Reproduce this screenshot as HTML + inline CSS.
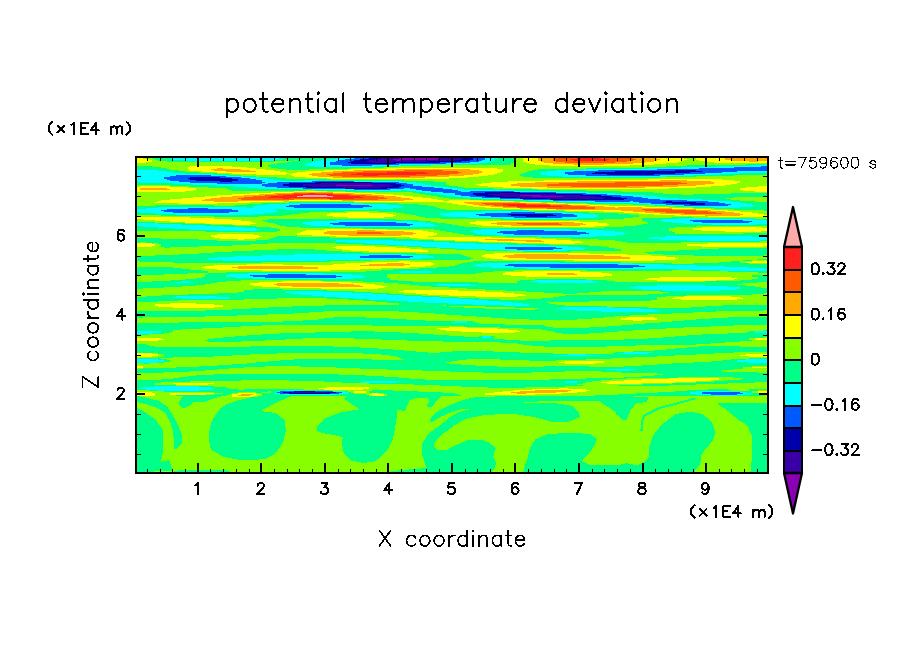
<!DOCTYPE html>
<html><head><meta charset="utf-8"><title>potential temperature deviation</title>
<style>html,body{margin:0;padding:0;background:#fff}body{width:904px;height:654px;overflow:hidden}svg{display:block}text{font-family:"Liberation Sans",sans-serif;fill:#000}</style></head><body>
<svg width="904" height="654" viewBox="0 0 904 654">
<rect width="904" height="654" fill="#fff"/>
<g shape-rendering="crispEdges" stroke-width="1" fill="none">
<rect x="136" y="157" width="632" height="316" fill="#88ff00" stroke="none"/>
<path stroke="#ffaaaa" d="M303 195.5h24M297 196.5h36"/>
<path stroke="#ff2020" d="M577 158.5h24M571 159.5h38M574 160.5h33M387 172.5h38M357 173.5h71M351 174.5h65M363 175.5h15M309 193.5h6M294 194.5h39M283 195.5h20M327 195.5h21M271 196.5h26M333 196.5h27M268 197.5h95M283 198.5h6M327 198.5h27M503 204.5h23M508 205.5h42M517 206.5h45"/>
<path stroke="#ff5a00" d="M553 158.5h24M601 158.5h32M553 159.5h18M609 159.5h27M553 160.5h21M607 160.5h26M556 161.5h71M565 162.5h50M404 170.5h39M363 171.5h95M342 172.5h45M425 172.5h36M333 173.5h24M428 173.5h30M327 174.5h24M416 174.5h33M330 175.5h33M378 175.5h59M342 176.5h68M615 182.5h66M559 183.5h128M547 184.5h131M547 185.5h116M571 186.5h56M292 193.5h17M315 193.5h18M277 194.5h17M333 194.5h18M265 195.5h18M348 195.5h18M253 196.5h18M360 196.5h18M244 197.5h24M363 197.5h21M238 198.5h45M289 198.5h38M354 198.5h33M241 199.5h53M330 199.5h48M482 203.5h44M485 204.5h18M526 204.5h24M494 205.5h14M550 205.5h21M503 206.5h14M562 206.5h24M517 207.5h78M547 208.5h48M642 209.5h30M645 210.5h51M654 211.5h54M666 212.5h50M684 213.5h38M517 223.5h42M523 224.5h39M357 232.5h24M357 233.5h27"/>
<path stroke="#ffaa00" d="M538 158.5h15M633 158.5h24M725 158.5h43M538 159.5h15M636 159.5h24M725 159.5h43M538 160.5h15M633 160.5h24M731 160.5h37M541 161.5h15M627 161.5h27M749 161.5h9M544 162.5h21M615 162.5h30M553 163.5h80M574 164.5h30M217 168.5h6M211 169.5h30M396 169.5h74M214 170.5h36M354 170.5h50M443 170.5h36M226 171.5h30M333 171.5h30M458 171.5h24M321 172.5h21M461 172.5h21M312 173.5h21M458 173.5h21M309 174.5h18M449 174.5h24M312 175.5h18M437 175.5h27M318 176.5h24M410 176.5h39M333 177.5h92M660 180.5h27M577 181.5h134M535 182.5h80M681 182.5h33M517 183.5h42M687 183.5h27M511 184.5h36M678 184.5h27M511 185.5h36M663 185.5h33M520 186.5h51M627 186.5h51M547 187.5h98M140 188.5h27M140 189.5h30M294 192.5h39M274 193.5h18M333 193.5h21M259 194.5h18M351 194.5h21M244 195.5h21M366 195.5h18M232 196.5h21M378 196.5h18M220 197.5h24M384 197.5h17M211 198.5h27M387 198.5h23M205 199.5h36M294 199.5h36M378 199.5h35M202 200.5h87M342 200.5h62M214 201.5h24M464 202.5h56M467 203.5h15M526 203.5h21M473 204.5h12M550 204.5h18M479 205.5h15M571 205.5h18M491 206.5h12M586 206.5h18M503 207.5h14M595 207.5h20M618 207.5h24M520 208.5h27M595 208.5h77M556 209.5h86M672 209.5h24M621 210.5h24M696 210.5h15M633 211.5h21M708 211.5h17M645 212.5h21M716 212.5h18M660 213.5h24M722 213.5h18M681 214.5h62M705 215.5h35M497 222.5h77M491 223.5h26M559 223.5h24M497 224.5h26M562 224.5h24M511 225.5h69M357 230.5h18M327 231.5h77M324 232.5h33M381 232.5h32M324 233.5h33M384 233.5h32M330 234.5h83M348 235.5h53M485 239.5h29M497 240.5h44M526 241.5h18M514 254.5h54M505 255.5h99M503 256.5h118M508 257.5h122M526 258.5h104M387 263.5h17M369 264.5h41M360 265.5h44M238 266.5h65M232 267.5h86M238 268.5h80M547 273.5h27M547 274.5h30M277 283.5h62M274 284.5h80M277 285.5h83M292 286.5h71M535 390.5h36M520 391.5h48M511 392.5h45M517 393.5h9M241 394.5h12M238 395.5h12"/>
<path stroke="#ffff00" d="M137 158.5h6M523 158.5h15M657 158.5h27M696 158.5h29M137 159.5h12M523 159.5h15M660 159.5h27M696 159.5h29M137 160.5h15M523 160.5h15M657 160.5h27M699 160.5h32M137 161.5h15M523 161.5h18M654 161.5h27M705 161.5h44M758 161.5h10M137 162.5h9M526 162.5h18M645 162.5h33M714 162.5h54M529 163.5h24M633 163.5h33M535 164.5h39M604 164.5h50M550 165.5h80M190 166.5h42M188 167.5h59M188 168.5h29M223 168.5h33M387 168.5h110M188 169.5h23M241 169.5h24M348 169.5h48M470 169.5h33M190 170.5h24M250 170.5h24M324 170.5h30M479 170.5h24M202 171.5h24M256 171.5h24M306 171.5h27M482 171.5h21M217 172.5h69M297 172.5h24M482 172.5h18M232 173.5h57M292 173.5h20M479 173.5h18M256 174.5h30M289 174.5h20M473 174.5h21M292 175.5h20M464 175.5h24M294 176.5h24M449 176.5h30M306 177.5h27M425 177.5h42M327 178.5h122M648 179.5h74M544 180.5h116M687 180.5h47M508 181.5h69M711 181.5h29M491 182.5h44M714 182.5h26M482 183.5h35M714 183.5h23M476 184.5h35M705 184.5h26M479 185.5h32M696 185.5h29M140 186.5h30M488 186.5h32M678 186.5h33M758 186.5h10M137 187.5h51M503 187.5h44M645 187.5h51M746 187.5h22M137 188.5h3M167 188.5h29M532 188.5h137M740 188.5h28M137 189.5h3M170 189.5h26M740 189.5h28M137 190.5h56M743 190.5h25M137 191.5h48M294 191.5h33M755 191.5h13M271 192.5h23M333 192.5h21M250 193.5h24M354 193.5h21M232 194.5h27M372 194.5h21M217 195.5h27M384 195.5h20M205 196.5h27M396 196.5h17M193 197.5h27M401 197.5h21M182 198.5h29M410 198.5h21M170 199.5h35M413 199.5h24M161 200.5h41M289 200.5h53M404 200.5h39M449 200.5h33M158 201.5h56M238 201.5h45M354 201.5h160M155 202.5h95M446 202.5h18M520 202.5h21M179 203.5h38M452 203.5h15M547 203.5h18M458 204.5h15M568 204.5h21M467 205.5h12M589 205.5h20M473 206.5h18M604 206.5h41M485 207.5h18M615 207.5h3M642 207.5h27M503 208.5h17M672 208.5h21M523 209.5h33M696 209.5h15M565 210.5h56M711 210.5h17M604 211.5h29M725 211.5h15M348 212.5h21M624 212.5h21M734 212.5h18M330 213.5h57M639 213.5h21M740 213.5h18M327 214.5h66M654 214.5h27M743 214.5h21M327 215.5h69M675 215.5h30M740 215.5h27M333 216.5h60M708 216.5h56M137 217.5h53M348 217.5h36M137 218.5h77M143 219.5h89M155 220.5h86M170 221.5h80M476 221.5h104M185 222.5h68M470 222.5h27M574 222.5h24M205 223.5h51M470 223.5h21M583 223.5h24M232 224.5h18M476 224.5h21M586 224.5h23M482 225.5h29M580 225.5h27M503 226.5h92M702 227.5h59M693 228.5h75M324 229.5h63M693 229.5h75M306 230.5h51M375 230.5h47M702 230.5h66M303 231.5h24M404 231.5h24M725 231.5h36M300 232.5h24M413 232.5h21M297 233.5h27M416 233.5h21M217 234.5h36M297 234.5h33M413 234.5h24M211 235.5h48M312 235.5h36M401 235.5h33M211 236.5h51M336 236.5h92M214 237.5h45M410 237.5h81M220 238.5h36M419 238.5h116M238 239.5h6M434 239.5h51M514 239.5h42M455 240.5h42M541 240.5h30M479 241.5h47M544 241.5h36M511 242.5h72M137 243.5h15M544 243.5h30M708 243.5h60M137 244.5h18M687 244.5h81M137 245.5h18M687 245.5h81M137 246.5h15M336 246.5h39M702 246.5h62M333 247.5h63M336 248.5h74M342 249.5h80M351 250.5h77M369 251.5h59M494 253.5h95M485 254.5h29M568 254.5h59M482 255.5h23M604 255.5h47M482 256.5h21M621 256.5h45M485 257.5h23M630 257.5h45M491 258.5h35M630 258.5h48M503 259.5h172M574 260.5h80M399 261.5h11M752 261.5h16M366 262.5h65M746 262.5h22M345 263.5h42M404 263.5h30M247 264.5h36M333 264.5h36M410 264.5h24M214 265.5h146M404 265.5h27M205 266.5h33M303 266.5h122M202 267.5h30M318 267.5h92M205 268.5h33M318 268.5h63M217 269.5h143M262 270.5h68M523 271.5h57M505 272.5h96M503 273.5h44M574 273.5h35M503 274.5h44M577 274.5h35M511 275.5h101M526 276.5h78M660 277.5h71M648 278.5h89M645 279.5h89M657 280.5h59M283 281.5h41M259 282.5h92M250 283.5h27M339 283.5h27M250 284.5h24M354 284.5h21M253 285.5h24M360 285.5h21M262 286.5h30M363 286.5h24M280 287.5h104M321 288.5h57M404 290.5h54M399 291.5h86M404 292.5h99M416 293.5h98M428 294.5h95M449 295.5h77M476 296.5h41M684 296.5h47M675 297.5h65M672 298.5h71M681 299.5h56M170 303.5h26M155 304.5h59M155 305.5h68M158 306.5h65M173 307.5h41M627 317.5h27M621 318.5h36M621 319.5h36M633 320.5h9M449 327.5h18M437 328.5h60M440 329.5h68M446 330.5h71M461 331.5h59M482 332.5h32M137 338.5h24M755 338.5h13M137 339.5h27M755 339.5h13M137 340.5h21M137 353.5h15M137 354.5h21M746 354.5h22M137 355.5h21M740 355.5h28M137 356.5h15M749 356.5h19M565 361.5h39M559 362.5h45M565 363.5h30M137 366.5h6M137 367.5h6M752 367.5h16M669 378.5h50M642 379.5h77M624 380.5h87M609 381.5h87M601 382.5h74M173 383.5h41M607 383.5h35M176 384.5h32M327 387.5h42M318 388.5h51M559 388.5h9M324 389.5h39M532 389.5h54M514 390.5h21M571 390.5h18M354 391.5h12M503 391.5h17M568 391.5h18M758 391.5h10M137 392.5h15M354 392.5h12M494 392.5h17M556 392.5h21M758 392.5h10M137 393.5h18M170 393.5h44M238 393.5h18M372 393.5h6M485 393.5h32M526 393.5h36M137 394.5h18M170 394.5h35M232 394.5h9M253 394.5h6M369 394.5h15M485 394.5h50M137 395.5h18M232 395.5h6M250 395.5h6M372 395.5h12M232 396.5h21"/>
<path stroke="#00ff88" d="M152 158.5h18M280 158.5h56M497 158.5h17M155 159.5h18M283 159.5h44M494 159.5h20M158 160.5h27M274 160.5h20M297 160.5h24M494 160.5h20M167 161.5h107M292 161.5h23M491 161.5h23M286 162.5h26M488 162.5h26M277 163.5h29M479 163.5h32M271 164.5h35M455 164.5h56M746 164.5h22M268 165.5h38M401 165.5h30M687 165.5h65M137 166.5h15M268 166.5h47M375 166.5h24M666 166.5h50M137 167.5h24M271 167.5h113M645 167.5h36M137 168.5h30M277 168.5h74M586 168.5h62M137 169.5h33M286 169.5h23M538 169.5h45M158 170.5h21M532 170.5h24M167 171.5h18M529 171.5h18M173 172.5h26M526 172.5h15M185 173.5h32M523 173.5h18M740 173.5h28M214 174.5h15M520 174.5h21M719 174.5h49M229 175.5h12M520 175.5h27M693 175.5h41M244 176.5h12M523 176.5h39M666 176.5h30M259 177.5h18M532 177.5h128M268 178.5h18M274 179.5h56M280 180.5h23M318 180.5h86M401 181.5h33M137 182.5h3M416 182.5h30M137 183.5h36M422 183.5h24M137 184.5h56M425 184.5h21M170 185.5h47M431 185.5h18M190 186.5h45M440 186.5h18M208 187.5h39M449 187.5h15M226 188.5h33M458 188.5h36M229 189.5h83M464 189.5h74M232 190.5h74M315 190.5h42M401 190.5h6M514 190.5h72M345 191.5h71M556 191.5h65M413 192.5h12M589 192.5h65M419 193.5h18M615 193.5h48M731 193.5h37M425 194.5h15M633 194.5h48M693 194.5h75M431 195.5h15M645 195.5h123M437 196.5h18M657 196.5h111M443 197.5h21M666 197.5h68M449 198.5h33M678 198.5h47M470 199.5h33M702 199.5h29M500 200.5h29M716 200.5h24M526 201.5h33M731 201.5h24M289 202.5h65M556 202.5h39M740 202.5h28M262 203.5h24M363 203.5h36M586 203.5h47M746 203.5h22M247 204.5h21M387 204.5h32M633 204.5h15M752 204.5h16M155 205.5h59M235 205.5h21M399 205.5h29M654 205.5h12M755 205.5h13M137 206.5h116M404 206.5h30M675 206.5h9M752 206.5h16M137 207.5h21M247 207.5h6M401 207.5h36M693 207.5h21M740 207.5h28M137 208.5h9M393 208.5h47M714 208.5h54M274 209.5h12M369 209.5h77M734 209.5h34M277 210.5h252M764 210.5h4M277 211.5h68M378 211.5h104M535 211.5h30M137 212.5h3M274 212.5h35M396 212.5h56M565 212.5h24M137 213.5h18M265 213.5h35M404 213.5h36M583 213.5h35M137 214.5h39M253 214.5h39M410 214.5h30M595 214.5h35M161 215.5h122M416 215.5h27M598 215.5h41M214 216.5h45M419 216.5h30M598 216.5h41M425 217.5h42M595 217.5h38M672 217.5h21M440 218.5h65M577 218.5h47M642 218.5h36M719 218.5h36M268 219.5h128M500 219.5h104M642 219.5h21M755 219.5h13M262 220.5h74M384 220.5h35M642 220.5h18M265 221.5h47M413 221.5h18M645 221.5h18M137 222.5h18M268 222.5h35M425 222.5h12M648 222.5h24M158 223.5h27M274 223.5h29M431 223.5h15M648 223.5h36M182 224.5h29M277 224.5h29M434 224.5h18M642 224.5h69M755 224.5h13M205 225.5h30M280 225.5h32M437 225.5h21M636 225.5h132M137 226.5h6M223 226.5h33M286 226.5h44M434 226.5h30M624 226.5h72M137 227.5h21M244 227.5h27M300 227.5h179M604 227.5h71M137 228.5h36M256 228.5h21M363 228.5h306M137 229.5h53M259 229.5h21M434 229.5h48M571 229.5h98M137 230.5h80M256 230.5h24M440 230.5h33M604 230.5h65M205 231.5h72M446 231.5h24M615 231.5h57M452 232.5h21M624 232.5h51M458 233.5h18M627 233.5h48M743 233.5h25M464 234.5h18M624 234.5h144M473 235.5h24M615 235.5h153M277 236.5h20M505 236.5h33M595 236.5h71M752 236.5h16M274 237.5h56M541 237.5h110M137 238.5h24M271 238.5h125M571 238.5h77M137 239.5h62M268 239.5h145M598 239.5h62M137 240.5h80M256 240.5h80M393 240.5h41M615 240.5h72M761 240.5h7M137 241.5h199M419 241.5h36M621 241.5h140M137 242.5h3M146 242.5h202M449 242.5h33M627 242.5h54M158 243.5h110M336 243.5h30M476 243.5h41M161 244.5h89M363 244.5h24M508 244.5h42M161 245.5h71M387 245.5h17M535 245.5h54M161 246.5h38M407 246.5h15M568 246.5h33M164 247.5h6M422 247.5h15M580 247.5h29M440 248.5h15M586 248.5h29M719 248.5h49M277 249.5h38M455 249.5h30M583 249.5h38M699 249.5h69M253 250.5h74M485 250.5h23M568 250.5h53M678 250.5h90M232 251.5h110M523 251.5h48M654 251.5h114M214 252.5h149M645 252.5h123M199 253.5h217M648 253.5h120M179 254.5h115M407 254.5h54M663 254.5h105M155 255.5h107M428 255.5h36M693 255.5h71M137 256.5h98M434 256.5h33M137 257.5h80M434 257.5h36M137 258.5h71M422 258.5h51M137 259.5h71M387 259.5h83M758 259.5h10M137 260.5h86M327 260.5h45M743 260.5h9M140 261.5h190M473 261.5h92M731 261.5h9M173 262.5h89M467 262.5h47M559 262.5h62M719 262.5h21M461 263.5h21M633 263.5h39M693 263.5h56M458 264.5h18M663 264.5h105M455 265.5h18M696 265.5h72M449 266.5h30M725 266.5h43M137 267.5h36M437 267.5h54M749 267.5h19M137 268.5h45M419 268.5h107M764 268.5h4M137 269.5h53M393 269.5h285M137 270.5h65M381 270.5h133M586 270.5h86M690 270.5h29M137 271.5h71M366 271.5h33M431 271.5h63M728 271.5h40M137 272.5h71M226 272.5h173M431 272.5h51M758 272.5h10M137 273.5h51M208 273.5h39M324 273.5h152M137 274.5h27M205 274.5h24M351 274.5h36M205 275.5h21M363 275.5h24M752 275.5h16M205 276.5h21M366 276.5h21M752 276.5h16M202 277.5h33M363 277.5h24M758 277.5h10M196 278.5h57M354 278.5h36M758 278.5h10M185 279.5h205M535 279.5h51M752 279.5h16M170 280.5h71M321 280.5h78M520 280.5h15M592 280.5h15M740 280.5h28M152 281.5h30M188 281.5h38M363 281.5h50M517 281.5h15M598 281.5h17M705 281.5h63M137 282.5h39M193 282.5h24M384 282.5h95M517 282.5h21M595 282.5h163M137 283.5h74M399 283.5h344M137 284.5h68M410 284.5h27M470 284.5h267M137 285.5h59M419 285.5h18M476 285.5h181M705 285.5h41M137 286.5h45M431 286.5h205M728 286.5h27M137 287.5h27M449 287.5h181M740 287.5h21M137 288.5h6M467 288.5h166M740 288.5h27M253 289.5h30M485 289.5h157M737 289.5h31M244 290.5h83M505 290.5h158M719 290.5h49M244 291.5h42M324 291.5h30M526 291.5h75M660 291.5h108M238 292.5h48M351 292.5h21M544 292.5h45M669 292.5h98M217 293.5h75M372 293.5h18M562 293.5h15M663 293.5h101M188 294.5h112M387 294.5h17M648 294.5h104M161 295.5h151M404 295.5h18M565 295.5h122M146 296.5h30M217 296.5h107M422 296.5h18M559 296.5h107M137 297.5h36M229 297.5h110M440 297.5h18M553 297.5h104M137 298.5h45M229 298.5h48M327 298.5h27M458 298.5h21M541 298.5h116M137 299.5h107M348 299.5h21M473 299.5h27M526 299.5h131M137 300.5h42M363 300.5h24M488 300.5h163M137 301.5h21M375 301.5h32M500 301.5h89M387 302.5h38M511 302.5h36M399 303.5h50M523 303.5h27M399 304.5h74M529 304.5h27M324 305.5h119M446 305.5h57M529 305.5h36M722 305.5h46M292 306.5h157M485 306.5h122M705 306.5h63M268 307.5h196M514 307.5h48M612 307.5h36M690 307.5h78M250 308.5h235M538 308.5h18M639 308.5h129M232 309.5h288M535 309.5h27M654 309.5h114M205 310.5h372M660 310.5h104M137 311.5h187M399 311.5h202M657 311.5h59M137 312.5h172M419 312.5h274M137 313.5h157M434 313.5h238M137 314.5h131M446 314.5h202M137 315.5h101M461 315.5h169M137 316.5h68M476 316.5h139M137 317.5h6M333 317.5h33M491 317.5h113M728 317.5h40M324 318.5h66M505 318.5h87M711 318.5h57M318 319.5h89M529 319.5h48M696 319.5h72M303 320.5h122M684 320.5h84M283 321.5h172M467 321.5h6M672 321.5h96M179 322.5h273M467 322.5h9M660 322.5h108M137 323.5h342M645 323.5h123M137 324.5h368M633 324.5h135M137 325.5h125M372 325.5h172M621 325.5h113M137 326.5h104M464 326.5h83M607 326.5h104M137 327.5h86M500 327.5h53M589 327.5h95M137 328.5h65M523 328.5h143M137 329.5h45M541 329.5h107M137 330.5h36M547 330.5h86M764 330.5h4M161 331.5h12M351 331.5h24M553 331.5h65M749 331.5h6M161 332.5h9M315 332.5h86M556 332.5h48M746 332.5h9M152 333.5h12M280 333.5h139M562 333.5h27M728 333.5h40M137 334.5h12M262 334.5h172M702 334.5h66M247 335.5h202M687 335.5h81M235 336.5h229M479 336.5h3M491 336.5h3M675 336.5h93M223 337.5h259M491 337.5h3M663 337.5h101M214 338.5h89M354 338.5h140M648 338.5h101M208 339.5h78M381 339.5h124M624 339.5h125M205 340.5h60M407 340.5h113M550 340.5h202M208 341.5h33M443 341.5h297M500 342.5h225M517 343.5h194M137 344.5h9M523 344.5h173M137 345.5h12M532 345.5h104M137 346.5h18M250 346.5h83M544 346.5h63M699 346.5h41M137 347.5h223M687 347.5h81M137 348.5h241M675 348.5h93M137 349.5h256M666 349.5h102M137 350.5h267M654 350.5h114M137 351.5h279M452 351.5h42M633 351.5h135M137 352.5h291M440 352.5h80M615 352.5h9M651 352.5h83M158 353.5h119M363 353.5h190M612 353.5h9M648 353.5h66M164 354.5h86M381 354.5h187M586 354.5h110M164 355.5h68M390 355.5h163M601 355.5h74M164 356.5h50M396 356.5h261M158 357.5h15M399 357.5h234M137 358.5h24M401 358.5h211M749 358.5h19M158 359.5h9M294 359.5h78M404 359.5h63M500 359.5h86M731 359.5h15M164 360.5h6M280 360.5h178M529 360.5h27M722 360.5h15M164 361.5h6M268 361.5h184M711 361.5h26M158 362.5h6M256 362.5h190M693 362.5h56M143 363.5h6M247 363.5h202M672 363.5h96M232 364.5h229M657 364.5h111M217 365.5h259M642 365.5h126M199 366.5h66M300 366.5h197M544 366.5h45M624 366.5h128M176 367.5h68M336 367.5h407M143 368.5h86M360 368.5h383M137 369.5h80M387 369.5h220M636 369.5h98M137 370.5h68M422 370.5h193M630 370.5h92M137 371.5h53M449 371.5h116M601 371.5h121M137 372.5h27M482 372.5h50M621 372.5h137M657 373.5h111M214 374.5h125M663 374.5h105M196 375.5h170M654 375.5h114M188 376.5h196M642 376.5h126M179 377.5h220M624 377.5h54M734 377.5h34M173 378.5h237M586 378.5h41M743 378.5h25M161 379.5h264M550 379.5h62M740 379.5h28M137 380.5h104M289 380.5h312M728 380.5h40M137 381.5h53M324 381.5h39M401 381.5h164M577 381.5h15M714 381.5h54M137 382.5h24M342 382.5h18M396 382.5h169M577 382.5h9M696 382.5h59M137 383.5h18M369 383.5h214M672 383.5h56M137 384.5h18M413 384.5h164M642 384.5h54M137 385.5h39M440 385.5h143M618 385.5h51M137 386.5h18M199 386.5h15M461 386.5h104M137 387.5h6M211 387.5h15M488 387.5h38M137 388.5h3M214 388.5h15M137 389.5h9M211 389.5h27M244 389.5h59M708 389.5h20M749 389.5h18M149 390.5h9M199 390.5h87M303 390.5h27M372 390.5h21M687 390.5h44M749 390.5h9M164 391.5h104M271 391.5h6M345 391.5h3M369 391.5h50M675 391.5h21M740 391.5h12M214 392.5h24M256 392.5h6M271 392.5h6M348 392.5h3M369 392.5h74M657 392.5h33M746 392.5h6M223 393.5h9M262 393.5h12M348 393.5h6M384 393.5h71M636 393.5h54M752 393.5h9M214 394.5h15M262 394.5h21M336 394.5h30M387 394.5h71M618 394.5h78M749 394.5h18M176 395.5h50M262 395.5h107M387 395.5h74M595 395.5h119M737 395.5h27M137 396.5h3M183 396.5h38M258 396.5h33M347 396.5h94M495 396.5h139M137 397.5h8M182 397.5h36M250 397.5h38M345 397.5h95M474 397.5h174M137 398.5h12M181 398.5h33M246 398.5h40M344 398.5h71M428 398.5h11M469 398.5h179M691 398.5h5M137 399.5h16M181 399.5h30M242 399.5h42M345 399.5h67M429 399.5h9M465 399.5h183M688 399.5h7M137 400.5h21M180 400.5h28M238 400.5h43M347 400.5h62M429 400.5h8M462 400.5h185M684 400.5h7M137 401.5h23M179 401.5h27M235 401.5h44M348 401.5h61M429 401.5h7M459 401.5h79M600 401.5h47M680 401.5h8M139 402.5h22M179 402.5h14M232 402.5h45M349 402.5h60M429 402.5h6M456 402.5h68M601 402.5h42M677 402.5h7M143 403.5h20M179 403.5h13M229 403.5h46M351 403.5h57M428 403.5h7M454 403.5h104M603 403.5h34M673 403.5h7M718 403.5h50M147 404.5h17M179 404.5h12M226 404.5h47M352 404.5h56M427 404.5h7M451 404.5h113M604 404.5h31M669 404.5h8M718 404.5h50M150 405.5h16M180 405.5h10M225 405.5h46M354 405.5h53M427 405.5h6M449 405.5h121M606 405.5h28M665 405.5h8M720 405.5h48M153 406.5h14M181 406.5h7M223 406.5h46M355 406.5h52M427 406.5h5M447 406.5h126M607 406.5h27M661 406.5h8M721 406.5h47M156 407.5h12M182 407.5h4M222 407.5h45M357 407.5h49M445 407.5h129M609 407.5h24M658 407.5h7M723 407.5h45M137 408.5h1M158 408.5h10M220 408.5h45M358 408.5h48M443 408.5h132M610 408.5h22M656 408.5h5M725 408.5h43M137 409.5h3M160 409.5h9M220 409.5h43M358 409.5h48M441 409.5h20M469 409.5h107M612 409.5h19M654 409.5h5M726 409.5h42M137 410.5h5M161 410.5h9M219 410.5h43M352 410.5h45M402 410.5h3M439 410.5h18M465 410.5h112M613 410.5h17M652 410.5h5M727 410.5h41M137 411.5h7M163 411.5h7M218 411.5h46M346 411.5h51M438 411.5h16M461 411.5h117M615 411.5h15M650 411.5h5M729 411.5h39M137 412.5h9M165 412.5h6M217 412.5h55M340 412.5h57M436 412.5h15M458 412.5h121M616 412.5h14M648 412.5h5M685 412.5h10M730 412.5h38M137 413.5h10M166 413.5h6M217 413.5h59M338 413.5h59M435 413.5h13M456 413.5h123M616 413.5h13M646 413.5h5M679 413.5h21M731 413.5h37M137 414.5h11M166 414.5h6M216 414.5h62M335 414.5h62M434 414.5h12M454 414.5h41M518 414.5h61M616 414.5h13M644 414.5h5M675 414.5h28M732 414.5h36M137 415.5h13M167 415.5h6M215 415.5h64M332 415.5h65M433 415.5h11M453 415.5h29M524 415.5h56M618 415.5h10M643 415.5h4M674 415.5h30M733 415.5h35M137 416.5h14M167 416.5h6M215 416.5h65M330 416.5h67M432 416.5h9M451 416.5h26M531 416.5h49M619 416.5h9M643 416.5h2M673 416.5h32M734 416.5h34M137 417.5h16M168 417.5h6M214 417.5h67M327 417.5h70M431 417.5h9M449 417.5h23M536 417.5h43M620 417.5h8M642 417.5h3M671 417.5h36M736 417.5h32M137 418.5h17M168 418.5h7M213 418.5h70M325 418.5h72M431 418.5h7M448 418.5h20M539 418.5h37M621 418.5h6M642 418.5h2M670 418.5h38M737 418.5h31M137 419.5h19M169 419.5h6M213 419.5h71M323 419.5h73M430 419.5h6M447 419.5h18M543 419.5h31M622 419.5h5M642 419.5h2M668 419.5h41M738 419.5h30M137 420.5h19M169 420.5h7M212 420.5h73M323 420.5h73M430 420.5h5M446 420.5h17M547 420.5h25M641 420.5h2M667 420.5h43M739 420.5h29M137 421.5h20M170 421.5h6M212 421.5h73M322 421.5h74M430 421.5h3M445 421.5h16M550 421.5h19M641 421.5h2M666 421.5h45M741 421.5h27M137 422.5h21M170 422.5h7M211 422.5h74M321 422.5h75M443 422.5h16M641 422.5h2M664 422.5h48M743 422.5h25M137 423.5h21M171 423.5h6M211 423.5h74M320 423.5h76M442 423.5h16M641 423.5h2M663 423.5h49M745 423.5h23M137 424.5h22M171 424.5h7M211 424.5h74M319 424.5h77M441 424.5h15M641 424.5h2M662 424.5h51M746 424.5h22M137 425.5h23M171 425.5h7M210 425.5h75M318 425.5h77M440 425.5h14M641 425.5h2M661 425.5h52M747 425.5h21M137 426.5h24M171 426.5h8M210 426.5h75M317 426.5h78M438 426.5h15M641 426.5h2M660 426.5h53M748 426.5h20M137 427.5h24M172 427.5h7M210 427.5h76M317 427.5h78M437 427.5h15M641 427.5h2M659 427.5h55M748 427.5h20M137 428.5h25M172 428.5h7M210 428.5h76M317 428.5h78M435 428.5h15M641 428.5h2M659 428.5h55M749 428.5h19M137 429.5h26M172 429.5h8M210 429.5h76M317 429.5h78M434 429.5h15M640 429.5h3M658 429.5h56M749 429.5h19M137 430.5h26M173 430.5h7M209 430.5h77M317 430.5h78M433 430.5h15M640 430.5h3M657 430.5h58M749 430.5h19M137 431.5h26M173 431.5h8M209 431.5h77M318 431.5h76M431 431.5h15M656 431.5h59M750 431.5h18M137 432.5h26M173 432.5h8M209 432.5h76M321 432.5h73M430 432.5h15M655 432.5h60M750 432.5h18M137 433.5h26M173 433.5h8M209 433.5h76M325 433.5h69M429 433.5h14M558 433.5h25M655 433.5h60M751 433.5h17M137 434.5h26M173 434.5h9M209 434.5h76M331 434.5h63M428 434.5h14M547 434.5h44M654 434.5h61M751 434.5h17M137 435.5h26M173 435.5h9M209 435.5h76M336 435.5h58M427 435.5h14M545 435.5h47M653 435.5h61M752 435.5h16M137 436.5h26M173 436.5h9M209 436.5h75M340 436.5h53M427 436.5h13M542 436.5h52M653 436.5h61M752 436.5h16M137 437.5h26M174 437.5h8M209 437.5h75M343 437.5h50M426 437.5h13M540 437.5h55M652 437.5h62M752 437.5h16M137 438.5h26M174 438.5h8M209 438.5h75M343 438.5h50M425 438.5h13M537 438.5h59M652 438.5h61M752 438.5h16M137 439.5h26M174 439.5h8M209 439.5h75M342 439.5h51M425 439.5h12M535 439.5h62M652 439.5h61M752 439.5h16M137 440.5h26M174 440.5h8M209 440.5h75M342 440.5h50M424 440.5h12M467 440.5h17M535 440.5h61M651 440.5h62M752 440.5h16M137 441.5h26M174 441.5h8M209 441.5h74M342 441.5h50M423 441.5h13M465 441.5h21M534 441.5h62M651 441.5h61M752 441.5h16M137 442.5h26M174 442.5h8M209 442.5h74M342 442.5h49M423 442.5h12M462 442.5h27M533 442.5h63M651 442.5h60M752 442.5h16M137 443.5h26M174 443.5h8M210 443.5h72M342 443.5h49M422 443.5h12M460 443.5h30M533 443.5h62M650 443.5h60M752 443.5h16M137 444.5h26M174 444.5h7M210 444.5h72M342 444.5h48M422 444.5h12M457 444.5h34M532 444.5h63M650 444.5h59M752 444.5h16M137 445.5h26M174 445.5h6M210 445.5h71M342 445.5h48M422 445.5h12M455 445.5h38M532 445.5h62M650 445.5h59M752 445.5h16M137 446.5h26M174 446.5h5M210 446.5h70M342 446.5h47M422 446.5h12M453 446.5h41M531 446.5h63M649 446.5h59M752 446.5h16M137 447.5h26M174 447.5h4M210 447.5h70M343 447.5h46M422 447.5h13M451 447.5h44M530 447.5h63M649 447.5h58M752 447.5h16M137 448.5h26M174 448.5h3M211 448.5h68M343 448.5h45M422 448.5h14M449 448.5h47M530 448.5h62M649 448.5h57M752 448.5h16M137 449.5h26M211 449.5h67M343 449.5h45M422 449.5h15M448 449.5h47M530 449.5h62M649 449.5h56M752 449.5h16M137 450.5h26M212 450.5h66M343 450.5h44M422 450.5h73M529 450.5h62M649 450.5h55M752 450.5h16M137 451.5h26M214 451.5h63M343 451.5h43M422 451.5h73M529 451.5h61M649 451.5h55M752 451.5h16M137 452.5h26M216 452.5h60M344 452.5h41M422 452.5h72M529 452.5h60M649 452.5h54M752 452.5h16M137 453.5h26M218 453.5h57M344 453.5h40M422 453.5h72M529 453.5h60M649 453.5h53M752 453.5h16M137 454.5h25M219 454.5h55M345 454.5h38M422 454.5h72M528 454.5h60M649 454.5h53M752 454.5h16M137 455.5h25M221 455.5h51M346 455.5h36M422 455.5h72M528 455.5h59M649 455.5h52M752 455.5h16M137 456.5h25M223 456.5h47M347 456.5h34M423 456.5h70M528 456.5h58M649 456.5h52M752 456.5h16M137 457.5h25M227 457.5h41M348 457.5h32M423 457.5h71M528 457.5h57M648 457.5h53M752 457.5h16M137 458.5h25M232 458.5h35M349 458.5h30M423 458.5h71M527 458.5h57M648 458.5h53M752 458.5h16M137 459.5h24M237 459.5h22M350 459.5h28M424 459.5h71M527 459.5h56M647 459.5h54M752 459.5h16M137 460.5h24M167 460.5h2M351 460.5h25M424 460.5h71M527 460.5h55M646 460.5h55M752 460.5h16M137 461.5h24M163 461.5h7M356 461.5h18M424 461.5h72M526 461.5h57M645 461.5h56M752 461.5h16M137 462.5h33M361 462.5h6M425 462.5h71M526 462.5h59M643 462.5h57M751 462.5h17M137 463.5h33M425 463.5h71M526 463.5h61M625 463.5h3M641 463.5h59M751 463.5h17M137 464.5h34M425 464.5h71M525 464.5h64M621 464.5h12M639 464.5h61M751 464.5h17M137 465.5h34M426 465.5h69M525 465.5h174M751 465.5h17M137 466.5h34M426 466.5h69M525 466.5h173M751 466.5h17M137 467.5h35M426 467.5h69M524 467.5h174M751 467.5h17M137 468.5h35M421 468.5h73M524 468.5h173M751 468.5h17M137 469.5h35M409 469.5h85M524 469.5h172M751 469.5h17M137 470.5h36M178 470.5h49M398 470.5h95M524 470.5h171M751 470.5h17M137 471.5h17M174 471.5h56M391 471.5h101M523 471.5h172M750 471.5h18"/>
<path stroke="#00ffff" d="M170 158.5h110M336 158.5h18M485 158.5h12M173 159.5h110M327 159.5h18M485 159.5h9M185 160.5h89M321 160.5h18M482 160.5h12M315 161.5h21M479 161.5h12M312 162.5h18M470 162.5h18M306 163.5h24M446 163.5h33M306 164.5h24M399 164.5h56M306 165.5h36M372 165.5h29M752 165.5h16M315 166.5h60M716 166.5h45M681 167.5h53M648 168.5h51M583 169.5h74M137 170.5h21M556 170.5h42M137 171.5h30M547 171.5h27M737 171.5h31M137 172.5h36M541 172.5h24M722 172.5h46M137 173.5h48M541 173.5h24M705 173.5h35M137 174.5h77M541 174.5h27M684 174.5h35M137 175.5h39M211 175.5h18M547 175.5h39M660 175.5h33M137 176.5h33M226 176.5h18M562 176.5h104M137 177.5h27M241 177.5h18M137 178.5h27M250 178.5h18M137 179.5h30M256 179.5h18M137 180.5h33M262 180.5h18M303 180.5h15M137 181.5h42M262 181.5h50M354 181.5h47M140 182.5h50M265 182.5h12M399 182.5h17M173 183.5h44M262 183.5h6M407 183.5h15M193 184.5h69M413 184.5h12M217 185.5h45M413 185.5h18M235 186.5h30M422 186.5h18M247 187.5h30M434 187.5h15M259 188.5h44M404 188.5h6M443 188.5h15M312 189.5h42M390 189.5h26M452 189.5h12M357 190.5h44M407 190.5h15M458 190.5h56M416 191.5h15M461 191.5h9M514 191.5h42M425 192.5h18M556 192.5h33M437 193.5h18M586 193.5h29M440 194.5h15M607 194.5h26M446 195.5h15M621 195.5h24M455 196.5h15M633 196.5h24M464 197.5h18M642 197.5h24M482 198.5h18M648 198.5h30M503 199.5h20M660 199.5h42M529 200.5h24M687 200.5h29M559 201.5h36M630 201.5h3M708 201.5h23M595 202.5h44M719 202.5h21M286 203.5h77M633 203.5h18M725 203.5h21M268 204.5h32M351 204.5h36M648 204.5h18M731 204.5h21M256 205.5h33M369 205.5h30M666 205.5h18M728 205.5h27M253 206.5h33M372 206.5h32M684 206.5h68M158 207.5h89M253 207.5h41M363 207.5h38M714 207.5h26M146 208.5h42M208 208.5h185M137 209.5h30M232 209.5h42M286 209.5h83M137 210.5h24M238 210.5h39M137 211.5h27M238 211.5h39M482 211.5h53M140 212.5h33M229 212.5h45M452 212.5h59M535 212.5h30M155 213.5h110M440 213.5h45M562 213.5h21M176 214.5h77M440 214.5h36M574 214.5h21M443 215.5h36M577 215.5h21M449 216.5h42M577 216.5h21M467 217.5h47M562 217.5h33M505 218.5h72M678 218.5h41M663 219.5h92M336 220.5h48M660 220.5h30M743 220.5h25M312 221.5h101M663 221.5h30M752 221.5h16M303 222.5h36M396 222.5h29M672 222.5h30M749 222.5h19M137 223.5h21M303 223.5h27M407 223.5h24M684 223.5h84M137 224.5h45M306 224.5h27M413 224.5h21M711 224.5h44M137 225.5h68M312 225.5h33M410 225.5h27M143 226.5h80M330 226.5h104M158 227.5h86M173 228.5h83M190 229.5h69M482 229.5h89M217 230.5h39M473 230.5h44M544 230.5h60M470 231.5h30M577 231.5h38M473 232.5h24M586 232.5h38M476 233.5h27M589 233.5h38M482 234.5h32M580 234.5h44M497 235.5h118M538 236.5h57M666 236.5h86M651 237.5h117M648 238.5h120M660 239.5h108M336 240.5h57M687 240.5h74M336 241.5h83M348 242.5h101M366 243.5h110M387 244.5h121M404 245.5h131M422 246.5h146M437 247.5h68M556 247.5h24M455 248.5h50M562 248.5h24M485 249.5h32M553 249.5h30M508 250.5h60M294 254.5h113M262 255.5h107M401 255.5h27M235 256.5h125M413 256.5h21M217 257.5h143M410 257.5h24M208 258.5h214M208 259.5h179M223 260.5h104M514 262.5h45M482 263.5h151M476 264.5h32M618 264.5h45M473 265.5h32M639 265.5h57M479 266.5h35M645 266.5h80M491 267.5h59M633 267.5h116M526 268.5h238M678 269.5h90M719 270.5h49M399 271.5h32M399 272.5h32M247 273.5h77M229 274.5h39M306 274.5h45M226 275.5h24M336 275.5h27M226 276.5h27M342 276.5h24M235 277.5h30M336 277.5h27M253 278.5h101M535 280.5h57M182 281.5h6M532 281.5h66M176 282.5h17M538 282.5h57M437 284.5h33M437 285.5h39M657 285.5h48M636 286.5h92M630 287.5h110M633 288.5h107M642 289.5h95M663 290.5h56M286 291.5h38M286 292.5h65M292 293.5h80M300 294.5h87M312 295.5h92M176 296.5h41M324 296.5h98M173 297.5h56M339 297.5h101M182 298.5h47M354 298.5h104M369 299.5h104M387 300.5h101M407 301.5h93M425 302.5h86M449 303.5h74M473 304.5h56M503 305.5h26M562 307.5h50M556 308.5h83M562 309.5h92M577 310.5h83M601 311.5h56M455 321.5h12M452 322.5h15M137 331.5h24M755 331.5h13M137 332.5h24M755 332.5h13M137 333.5h15M482 336.5h9M482 337.5h9M624 352.5h27M621 353.5h27M568 354.5h18M553 355.5h48M137 359.5h21M746 359.5h22M137 360.5h27M737 360.5h31M137 361.5h27M737 361.5h31M137 362.5h21M749 362.5h19M607 369.5h29M615 370.5h15M363 381.5h38M565 381.5h12M360 382.5h36M565 382.5h12M155 386.5h44M143 387.5h68M140 388.5h74M146 389.5h65M158 390.5h41M286 390.5h17M277 391.5h3M333 391.5h12M696 391.5h44M342 392.5h6M690 392.5h12M740 392.5h6M274 393.5h6M339 393.5h9M690 393.5h12M743 393.5h9M283 394.5h53M696 394.5h15M737 394.5h12M714 395.5h23"/>
<path stroke="#0058ff" d="M354 158.5h15M473 158.5h12M345 159.5h15M473 159.5h12M339 160.5h15M470 160.5h12M336 161.5h15M461 161.5h18M330 162.5h18M440 162.5h30M330 163.5h21M396 163.5h50M330 164.5h69M342 165.5h30M761 166.5h7M734 167.5h34M699 168.5h69M657 169.5h111M598 170.5h77M696 170.5h72M574 171.5h41M702 171.5h35M565 172.5h30M690 172.5h32M565 173.5h27M675 173.5h30M568 174.5h39M654 174.5h30M176 175.5h35M586 175.5h74M170 176.5h56M164 177.5h26M220 177.5h21M164 178.5h24M232 178.5h18M167 179.5h23M238 179.5h18M170 180.5h26M238 180.5h24M179 181.5h41M232 181.5h30M312 181.5h42M190 182.5h75M277 182.5h38M372 182.5h27M217 183.5h45M268 183.5h21M396 183.5h11M262 184.5h21M401 184.5h12M262 185.5h21M404 185.5h9M265 186.5h24M401 186.5h21M277 187.5h29M399 187.5h35M303 188.5h42M387 188.5h17M410 188.5h33M354 189.5h36M416 189.5h36M422 190.5h36M431 191.5h30M470 191.5h44M443 192.5h42M520 192.5h36M455 193.5h18M556 193.5h30M455 194.5h18M583 194.5h24M461 195.5h15M601 195.5h20M470 196.5h15M612 196.5h21M482 197.5h18M621 197.5h21M500 198.5h20M627 198.5h21M523 199.5h27M624 199.5h36M553 200.5h134M595 201.5h35M633 201.5h33M672 201.5h36M639 202.5h24M696 202.5h23M651 203.5h21M705 203.5h20M300 204.5h51M666 204.5h24M705 204.5h26M289 205.5h80M684 205.5h44M286 206.5h86M294 207.5h69M188 208.5h20M167 209.5h65M161 210.5h77M164 211.5h74M173 212.5h56M511 212.5h24M485 213.5h77M476 214.5h32M553 214.5h21M479 215.5h32M556 215.5h21M491 216.5h35M547 216.5h30M514 217.5h48M690 220.5h53M693 221.5h59M339 222.5h57M702 222.5h47M330 223.5h77M333 224.5h80M345 225.5h65M517 230.5h27M500 231.5h77M497 232.5h89M503 233.5h86M514 234.5h66M505 247.5h51M505 248.5h57M517 249.5h36M369 255.5h32M360 256.5h53M360 257.5h50M508 264.5h110M505 265.5h134M514 266.5h131M550 267.5h83M268 274.5h38M250 275.5h86M253 276.5h89M265 277.5h71M280 391.5h14M315 391.5h18M277 392.5h6M336 392.5h6M702 392.5h38M280 393.5h9M330 393.5h9M702 393.5h41M711 394.5h26"/>
<path stroke="#0000aa" d="M369 158.5h12M461 158.5h12M360 159.5h15M461 159.5h12M354 160.5h15M455 160.5h15M351 161.5h15M428 161.5h33M348 162.5h24M393 162.5h47M351 163.5h45M675 170.5h21M615 171.5h87M595 172.5h95M592 173.5h83M607 174.5h47M190 177.5h30M188 178.5h44M190 179.5h48M196 180.5h42M220 181.5h12M315 182.5h57M289 183.5h32M372 183.5h24M283 184.5h20M390 184.5h11M283 185.5h20M393 185.5h11M289 186.5h23M390 186.5h11M306 187.5h36M381 187.5h18M345 188.5h42M485 192.5h35M473 193.5h27M517 193.5h39M473 194.5h15M556 194.5h27M476 195.5h18M580 195.5h21M485 196.5h18M595 196.5h17M500 197.5h17M604 197.5h17M520 198.5h27M604 198.5h23M550 199.5h74M666 201.5h6M663 202.5h33M672 203.5h33M690 204.5h15M508 214.5h45M511 215.5h45M526 216.5h21M294 391.5h21M283 392.5h9M327 392.5h9M289 393.5h41"/>
<path stroke="#3a00a8" d="M381 158.5h18M440 158.5h21M375 159.5h18M437 159.5h24M369 160.5h27M401 160.5h54M366 161.5h62M372 162.5h21M321 183.5h51M303 184.5h87M303 185.5h33M372 185.5h21M312 186.5h78M342 187.5h39M500 193.5h17M488 194.5h68M494 195.5h26M541 195.5h39M503 196.5h29M562 196.5h33M517 197.5h87M547 198.5h57M292 392.5h35"/>
<path stroke="#8a00b4" d="M399 158.5h41M393 159.5h44M396 160.5h5M336 185.5h36M520 195.5h21M532 196.5h30"/>
</g>
<g shape-rendering="crispEdges" fill="none" stroke="#000">
<path stroke-width="1" d="M147.5 473v-4M147.5 157v4M160.5 473v-4M160.5 157v4M172.5 473v-4M172.5 157v4M185.5 473v-4M185.5 157v4M210.5 473v-4M210.5 157v4M223.5 473v-4M223.5 157v4M236.5 473v-4M236.5 157v4M249.5 473v-4M249.5 157v4M274.5 473v-4M274.5 157v4M287.5 473v-4M287.5 157v4M299.5 473v-4M299.5 157v4M312.5 473v-4M312.5 157v4M338.5 473v-4M338.5 157v4M350.5 473v-4M350.5 157v4M363.5 473v-4M363.5 157v4M376.5 473v-4M376.5 157v4M401.5 473v-4M401.5 157v4M414.5 473v-4M414.5 157v4M426.5 473v-4M426.5 157v4M439.5 473v-4M439.5 157v4M465.5 473v-4M465.5 157v4M477.5 473v-4M477.5 157v4M490.5 473v-4M490.5 157v4M503.5 473v-4M503.5 157v4M528.5 473v-4M528.5 157v4M541.5 473v-4M541.5 157v4M554.5 473v-4M554.5 157v4M566.5 473v-4M566.5 157v4M592.5 473v-4M592.5 157v4M604.5 473v-4M604.5 157v4M617.5 473v-4M617.5 157v4M630.5 473v-4M630.5 157v4M655.5 473v-4M655.5 157v4M668.5 473v-4M668.5 157v4M681.5 473v-4M681.5 157v4M693.5 473v-4M693.5 157v4M719.5 473v-4M719.5 157v4M731.5 473v-4M731.5 157v4M744.5 473v-4M744.5 157v4M757.5 473v-4M757.5 157v4M136 454.5h5M768 454.5h-5M136 434.5h5M768 434.5h-5M136 414.5h5M768 414.5h-5M136 374.5h5M768 374.5h-5M136 355.5h5M768 355.5h-5M136 335.5h5M768 335.5h-5M136 295.5h5M768 295.5h-5M136 275.5h5M768 275.5h-5M136 256.5h5M768 256.5h-5M136 216.5h5M768 216.5h-5M136 196.5h5M768 196.5h-5M136 176.5h5M768 176.5h-5"/>
<path stroke-width="2" d="M198 473v-10M198 157v10M261 473v-10M261 157v10M325 473v-10M325 157v10M388 473v-10M388 157v10M452 473v-10M452 157v10M515 473v-10M515 157v10M579 473v-10M579 157v10M643 473v-10M643 157v10M706 473v-10M706 157v10M136 394h9M768 394h-9M136 315h9M768 315h-9M136 236h9M768 236h-9"/>
<rect x="136" y="157" width="632" height="316" stroke-width="2"/>
</g>
<g shape-rendering="crispEdges">
<rect x="784" y="247" width="18" height="23" fill="#ff2020"/>
<rect x="784" y="270" width="18" height="22" fill="#ff5a00"/>
<rect x="784" y="292" width="18" height="23" fill="#ffaa00"/>
<rect x="784" y="315" width="18" height="23" fill="#ffff00"/>
<rect x="784" y="338" width="18" height="22" fill="#88ff00"/>
<rect x="784" y="360" width="18" height="23" fill="#00ff88"/>
<rect x="784" y="383" width="18" height="23" fill="#00ffff"/>
<rect x="784" y="406" width="18" height="22" fill="#0058ff"/>
<rect x="784" y="428" width="18" height="23" fill="#0000aa"/>
<rect x="784" y="451" width="18" height="22" fill="#3a00a8"/>
<path fill="none" stroke="#000" stroke-width="2" d="M784 246V474M802 246V474M783 247H803M783 270H803M783 292H803M783 315H803M783 338H803M783 360H803M783 383H803M783 406H803M783 428H803M783 451H803M783 473H803"/>
</g>
<g stroke="#000" stroke-width="2.3" stroke-linejoin="round">
<path d="M784 247L793 207L802 247Z" fill="#ffaaaa"/>
<path d="M784 473L793 513.5L802 473Z" fill="#8a00b4"/>
</g>
<g id="txt" fill="none" stroke="#000" stroke-linecap="round" stroke-linejoin="round" shape-rendering="crispEdges">
<path d="M227.02 98.83L227.02 117.43M227.02 101.62L228.88 99.76L230.74 98.83L233.53 98.83L235.39 99.76L237.25 101.62L238.18 104.41L238.18 106.27L237.25 109.06L235.39 110.92L233.53 111.85L230.74 111.85L228.88 110.92L227.02 109.06M248.29 98.83L246.43 99.76L244.57 101.62L243.64 104.41L243.64 106.27L244.57 109.06L246.43 110.92L248.29 111.85L251.08 111.85L252.94 110.92L254.80 109.06L255.73 106.27L255.73 104.41L254.80 101.62L252.94 99.76L251.08 98.83L248.29 98.83M263.04 93.25L263.04 108.13L263.97 110.92L265.83 111.85L267.69 111.85M260.25 98.83L266.76 98.83M272.26 104.41L283.43 104.41L283.43 102.55L282.50 100.69L281.56 99.76L279.71 98.83L276.92 98.83L275.06 99.76L273.19 101.62L272.26 104.41L272.26 106.27L273.19 109.06L275.06 110.92L276.92 111.85L279.71 111.85L281.56 110.92L283.43 109.06M289.82 98.83L289.82 111.85M289.82 102.55L292.61 99.76L294.47 98.83L297.26 98.83L299.12 99.76L300.05 102.55L300.05 111.85M308.29 93.25L308.29 108.13L309.22 110.92L311.08 111.85L312.94 111.85M305.50 98.83L312.01 98.83M317.52 93.25L318.45 94.05L319.38 93.25L318.45 92.45L317.52 93.25M318.45 98.83L318.45 111.85M336.06 98.83L336.06 111.85M336.06 101.62L334.20 99.76L332.34 98.83L329.55 98.83L327.69 99.76L325.83 101.62L324.90 104.41L324.90 106.27L325.83 109.06L327.69 110.92L329.55 111.85L332.34 111.85L334.20 110.92L336.06 109.06M343.38 93.25L343.38 111.85M366.48 93.25L366.48 108.13L367.41 110.92L369.26 111.85L371.12 111.85M363.69 98.83L370.20 98.83M375.70 104.41L386.86 104.41L386.86 102.55L385.93 100.69L385.00 99.76L383.14 98.83L380.35 98.83L378.49 99.76L376.63 101.62L375.70 104.41L375.70 106.27L376.63 109.06L378.49 110.92L380.35 111.85L383.14 111.85L385.00 110.92L386.86 109.06M393.25 98.83L393.25 111.85M393.25 102.55L396.04 99.76L397.90 98.83L400.69 98.83L402.55 99.76L403.48 102.55L403.48 111.85M403.48 102.55L406.27 99.76L408.13 98.83L410.92 98.83L412.78 99.76L413.71 102.55L413.71 111.85M420.96 98.83L420.96 117.43M420.96 101.62L422.82 99.76L424.68 98.83L427.47 98.83L429.33 99.76L431.19 101.62L432.12 104.41L432.12 106.27L431.19 109.06L429.33 110.92L427.47 111.85L424.68 111.85L422.82 110.92L420.96 109.06M437.57 104.41L448.73 104.41L448.73 102.55L447.80 100.69L446.87 99.76L445.01 98.83L442.22 98.83L440.36 99.76L438.50 101.62L437.57 104.41L437.57 106.27L438.50 109.06L440.36 110.92L442.22 111.85L445.01 111.85L446.87 110.92L448.73 109.06M455.12 98.83L455.12 111.85M455.12 104.41L456.05 101.62L457.91 99.76L459.77 98.83L462.56 98.83M477.36 98.83L477.36 111.85M477.36 101.62L475.50 99.76L473.64 98.83L470.85 98.83L468.99 99.76L467.13 101.62L466.20 104.41L466.20 106.27L467.13 109.06L468.99 110.92L470.85 111.85L473.64 111.85L475.50 110.92L477.36 109.06M485.61 93.25L485.61 108.13L486.54 110.92L488.40 111.85L490.26 111.85M482.82 98.83L489.33 98.83M495.76 98.83L495.76 108.13L496.69 110.92L498.55 111.85L501.34 111.85L503.20 110.92L505.99 108.13M505.99 98.83L505.99 111.85M513.31 98.83L513.31 111.85M513.31 104.41L514.23 101.62L516.10 99.76L517.95 98.83L520.75 98.83M524.38 104.41L535.54 104.41L535.54 102.55L534.61 100.69L533.68 99.76L531.82 98.83L529.03 98.83L527.17 99.76L525.31 101.62L524.38 104.41L524.38 106.27L525.31 109.06L527.17 110.92L529.03 111.85L531.82 111.85L533.68 110.92L535.54 109.06M566.94 93.25L566.94 111.85M566.94 101.62L565.08 99.76L563.22 98.83L560.43 98.83L558.57 99.76L556.71 101.62L555.78 104.41L555.78 106.27L556.71 109.06L558.57 110.92L560.43 111.85L563.22 111.85L565.08 110.92L566.94 109.06M573.33 104.41L584.49 104.41L584.49 102.55L583.56 100.69L582.63 99.76L580.77 98.83L577.98 98.83L576.12 99.76L574.26 101.62L573.33 104.41L573.33 106.27L574.26 109.06L576.12 110.92L577.98 111.85L580.77 111.85L582.63 110.92L584.49 109.06M589.02 98.83L594.60 111.85M600.18 98.83L594.60 111.85M604.72 93.25L605.65 94.05L606.58 93.25L605.65 92.45L604.72 93.25M605.65 98.83L605.65 111.85M623.27 98.83L623.27 111.85M623.27 101.62L621.41 99.76L619.55 98.83L616.76 98.83L614.90 99.76L613.04 101.62L612.11 104.41L612.11 106.27L613.04 109.06L614.90 110.92L616.76 111.85L619.55 111.85L621.41 110.92L623.27 109.06M631.52 93.25L631.52 108.13L632.45 110.92L634.31 111.85L636.17 111.85M628.73 98.83L635.24 98.83M640.74 93.25L641.67 94.05L642.60 93.25L641.67 92.45L640.74 93.25M641.67 98.83L641.67 111.85M652.78 98.83L650.92 99.76L649.06 101.62L648.13 104.41L648.13 106.27L649.06 109.06L650.92 110.92L652.78 111.85L655.57 111.85L657.43 110.92L659.29 109.06L660.22 106.27L660.22 104.41L659.29 101.62L657.43 99.76L655.57 98.83L652.78 98.83M666.61 98.83L666.61 111.85M666.61 102.55L669.40 99.76L671.26 98.83L674.05 98.83L675.91 99.76L676.84 102.55L676.84 111.85" stroke-width="2.00"/>
<path d="M52.26 122.01L51.22 122.80L50.17 123.98L49.12 125.55L48.60 127.51L48.60 129.08L49.12 131.05L50.17 132.62L51.22 133.80L52.26 134.59M57.53 125.73L64.24 132.44M64.24 125.73L57.53 132.44M71.28 124.89L72.33 124.37L73.90 122.80L73.90 133.80M81.06 122.80L81.06 133.80M81.06 122.80L87.87 122.80M81.06 128.04L85.25 128.04M81.06 133.80L87.87 133.80M96.05 122.80L90.81 130.13L98.67 130.13M96.05 122.80L96.05 133.80M110.81 126.46L110.81 133.80M110.81 128.56L112.38 126.99L113.43 126.46L115.00 126.46L116.05 126.99L116.58 128.56L116.58 133.80M116.58 128.56L118.15 126.99L119.20 126.46L120.77 126.46L121.81 126.99L122.34 128.56L122.34 133.80M126.52 122.01L127.57 122.80L128.61 123.98L129.66 125.55L130.19 127.51L130.19 129.08L129.66 131.05L128.61 132.62L127.57 133.80L126.52 134.59" stroke-width="2.00"/>
<path d="M694.56 505.21L693.52 506.00L692.47 507.18L691.42 508.75L690.90 510.71L690.90 512.28L691.42 514.25L692.47 515.82L693.52 517.00L694.56 517.79M699.83 508.93L706.54 515.64M706.54 508.93L699.83 515.64M713.58 508.09L714.63 507.57L716.20 506.00L716.20 517.00M723.36 506.00L723.36 517.00M723.36 506.00L730.17 506.00M723.36 511.24L727.55 511.24M723.36 517.00L730.17 517.00M738.35 506.00L733.11 513.33L740.97 513.33M738.35 506.00L738.35 517.00M753.11 509.66L753.11 517.00M753.11 511.76L754.68 510.19L755.73 509.66L757.30 509.66L758.35 510.19L758.88 511.76L758.88 517.00M758.88 511.76L760.45 510.19L761.50 509.66L763.07 509.66L764.12 510.19L764.64 511.76L764.64 517.00M768.82 505.21L769.87 506.00L770.91 507.18L771.96 508.75L772.48 510.71L772.48 512.28L771.96 514.25L770.91 515.82L769.87 517.00L768.82 517.79" stroke-width="2.00"/>
<path d="M780.07 157.64L780.07 166.01L780.59 167.58L781.63 168.10L782.68 168.10M778.50 160.78L782.16 160.78M785.82 161.82L795.23 161.82M785.82 164.96L795.23 164.96M806.22 157.12L800.99 168.10M798.89 157.12L806.22 157.12M815.63 157.12L810.40 157.12L809.88 161.82L810.40 161.30L811.97 160.78L813.54 160.78L815.11 161.30L816.15 162.35L816.68 163.92L816.68 164.96L816.15 166.53L815.11 167.58L813.54 168.10L811.97 168.10L810.40 167.58L809.88 167.05L809.35 166.01M826.61 160.78L826.09 162.35L825.04 163.39L823.47 163.92L822.95 163.92L821.38 163.39L820.34 162.35L819.81 160.78L819.81 160.25L820.34 158.69L821.38 157.64L822.95 157.12L823.47 157.12L825.04 157.64L826.09 158.69L826.61 160.78L826.61 163.39L826.09 166.01L825.04 167.58L823.47 168.10L822.43 168.10L820.86 167.58L820.34 166.53M837.07 158.69L836.55 157.64L834.98 157.12L833.93 157.12L832.37 157.64L831.32 159.21L830.80 161.82L830.80 164.44L831.32 166.53L832.37 167.58L833.93 168.10L834.46 168.10L836.03 167.58L837.07 166.53L837.60 164.96L837.60 164.44L837.07 162.87L836.03 161.82L834.46 161.30L833.93 161.30L832.37 161.82L831.32 162.87L830.80 164.44M843.87 157.12L842.30 157.64L841.26 159.21L840.73 161.82L840.73 163.39L841.26 166.01L842.30 167.58L843.87 168.10L844.92 168.10L846.49 167.58L847.53 166.01L848.06 163.39L848.06 161.82L847.53 159.21L846.49 157.64L844.92 157.12L843.87 157.12M854.33 157.12L852.76 157.64L851.72 159.21L851.19 161.82L851.19 163.39L851.72 166.01L852.76 167.58L854.33 168.10L855.38 168.10L856.95 167.58L857.99 166.01L858.52 163.39L858.52 161.82L857.99 159.21L856.95 157.64L855.38 157.12L854.33 157.12M875.77 162.35L875.25 161.30L873.68 160.78L872.11 160.78L870.54 161.30L870.02 162.35L870.54 163.39L871.59 163.92L874.21 164.44L875.25 164.96L875.77 166.01L875.77 166.53L875.25 167.58L873.68 168.10L872.11 168.10L870.54 167.58L870.02 166.53" stroke-width="1.10"/>
<path d="M379.46 530.63L390.64 545.90M390.64 530.63L379.46 545.90M415.60 537.70L414.11 536.22L412.62 535.47L410.38 535.47L408.89 536.22L407.40 537.70L406.66 539.94L406.66 541.43L407.40 543.66L408.89 545.15L410.38 545.90L412.62 545.90L414.11 545.15L415.60 543.66M423.79 535.47L422.30 536.22L420.81 537.70L420.07 539.94L420.07 541.43L420.81 543.66L422.30 545.15L423.79 545.90L426.03 545.90L427.52 545.15L429.00 543.66L429.75 541.43L429.75 539.94L429.00 537.70L427.52 536.22L426.03 535.47L423.79 535.47M437.95 535.47L436.46 536.22L434.97 537.70L434.22 539.94L434.22 541.43L434.97 543.66L436.46 545.15L437.95 545.90L440.18 545.90L441.67 545.15L443.16 543.66L443.91 541.43L443.91 539.94L443.16 537.70L441.67 536.22L440.18 535.47L437.95 535.47M449.12 535.47L449.12 545.90M449.12 539.94L449.87 537.70L451.36 536.22L452.85 535.47L455.08 535.47M467.00 531.00L467.00 545.90M467.00 537.70L465.51 536.22L464.02 535.47L461.79 535.47L460.30 536.22L458.81 537.70L458.06 539.94L458.06 541.43L458.81 543.66L460.30 545.15L461.79 545.90L464.02 545.90L465.51 545.15L467.00 543.66M472.22 531.00L472.96 531.64L473.71 531.00L472.96 530.36L472.22 531.00M472.96 535.47L472.96 545.90M478.92 535.47L478.92 545.90M478.92 538.45L481.16 536.22L482.65 535.47L484.88 535.47L486.37 536.22L487.12 538.45L487.12 545.90M501.27 535.47L501.27 545.90M501.27 537.70L499.78 536.22L498.29 535.47L496.06 535.47L494.57 536.22L493.08 537.70L492.33 539.94L492.33 541.43L493.08 543.66L494.57 545.15L496.06 545.90L498.29 545.90L499.78 545.15L501.27 543.66M507.98 531.00L507.98 542.92L508.72 545.15L510.21 545.90L511.70 545.90M505.74 535.47L510.96 535.47M515.43 539.94L524.37 539.94L524.37 538.45L523.62 536.96L522.88 536.22L521.38 535.47L519.15 535.47L517.66 536.22L516.17 537.70L515.43 539.94L515.43 541.43L516.17 543.66L517.66 545.15L519.15 545.90L521.38 545.90L522.88 545.15L524.37 543.66" stroke-width="1.66"/>
<path d="M82.66 376.73L98.30 387.16M82.66 387.16L82.66 376.73M98.30 387.16L98.30 376.73M90.10 351.40L88.61 352.89L87.87 354.38L87.87 356.62L88.61 358.11L90.10 359.60L92.34 360.34L93.83 360.34L96.06 359.60L97.55 358.11L98.30 356.62L98.30 354.38L97.55 352.89L96.06 351.40M87.87 343.21L88.61 344.70L90.10 346.19L92.34 346.93L93.83 346.93L96.06 346.19L97.55 344.70L98.30 343.21L98.30 340.97L97.55 339.48L96.06 338.00L93.83 337.25L92.34 337.25L90.10 338.00L88.61 339.48L87.87 340.97L87.87 343.21M87.87 329.05L88.61 330.54L90.10 332.03L92.34 332.78L93.83 332.78L96.06 332.03L97.55 330.54L98.30 329.05L98.30 326.82L97.55 325.33L96.06 323.84L93.83 323.09L92.34 323.09L90.10 323.84L88.61 325.33L87.87 326.82L87.87 329.05M87.87 317.88L98.30 317.88M92.34 317.88L90.10 317.13L88.61 315.64L87.87 314.15L87.87 311.92M83.40 300.00L98.30 300.00M90.10 300.00L88.61 301.49L87.87 302.98L87.87 305.21L88.61 306.70L90.10 308.19L92.34 308.94L93.83 308.94L96.06 308.19L97.55 306.70L98.30 305.21L98.30 302.98L97.55 301.49L96.06 300.00M83.40 294.78L84.04 294.04L83.40 293.29L82.76 294.04L83.40 294.78M87.87 294.04L98.30 294.04M87.87 288.08L98.30 288.08M90.85 288.08L88.61 285.84L87.87 284.35L87.87 282.12L88.61 280.63L90.85 279.88L98.30 279.88M87.87 265.73L98.30 265.73M90.10 265.73L88.61 267.22L87.87 268.71L87.87 270.94L88.61 272.43L90.10 273.92L92.34 274.67L93.83 274.67L96.06 273.92L97.55 272.43L98.30 270.94L98.30 268.71L97.55 267.22L96.06 265.73M83.40 259.02L95.32 259.02L97.55 258.28L98.30 256.79L98.30 255.30M87.87 261.26L87.87 256.04M92.34 251.57L92.34 242.63L90.85 242.63L89.36 243.38L88.61 244.12L87.87 245.61L87.87 247.85L88.61 249.34L90.10 250.83L92.34 251.57L93.83 251.57L96.06 250.83L97.55 249.34L98.30 247.85L98.30 245.61L97.55 244.12L96.06 242.63" stroke-width="1.66"/>
<path d="M195.30 485.09L196.35 484.57L197.92 483.00L197.92 494.00" stroke-width="2.00"/>
<path d="M257.76 485.62L257.76 485.09L258.28 484.04L258.80 483.52L259.85 483.00L261.95 483.00L263.00 483.52L263.52 484.04L264.04 485.09L264.04 486.14L263.52 487.19L262.47 488.76L257.23 494.00L264.57 494.00" stroke-width="2.00"/>
<path d="M321.78 483.00L327.54 483.00L324.40 487.19L325.97 487.19L327.02 487.71L327.54 488.24L328.07 489.81L328.07 490.86L327.54 492.43L326.50 493.48L324.92 494.00L323.35 494.00L321.78 493.48L321.26 492.95L320.73 491.90" stroke-width="2.00"/>
<path d="M389.47 483.00L384.23 490.33L392.09 490.33M389.47 483.00L389.47 494.00" stroke-width="2.00"/>
<path d="M454.02 483.00L448.78 483.00L448.26 487.71L448.78 487.19L450.35 486.66L451.92 486.66L453.50 487.19L454.54 488.24L455.07 489.81L455.07 490.86L454.54 492.43L453.50 493.48L451.92 494.00L450.35 494.00L448.78 493.48L448.26 492.95L447.73 491.90" stroke-width="2.00"/>
<path d="M518.04 484.57L517.52 483.52L515.95 483.00L514.90 483.00L513.33 483.52L512.28 485.09L511.76 487.71L511.76 490.33L512.28 492.43L513.33 493.48L514.90 494.00L515.42 494.00L517.00 493.48L518.04 492.43L518.57 490.86L518.57 490.33L518.04 488.76L517.00 487.71L515.42 487.19L514.90 487.19L513.33 487.71L512.28 488.76L511.76 490.33" stroke-width="2.00"/>
<path d="M582.07 483.00L576.83 494.00M574.73 483.00L582.07 483.00" stroke-width="2.00"/>
<path d="M640.85 483.00L639.28 483.52L638.76 484.57L638.76 485.62L639.28 486.66L640.33 487.19L642.42 487.71L644.00 488.24L645.04 489.28L645.57 490.33L645.57 491.90L645.04 492.95L644.52 493.48L642.95 494.00L640.85 494.00L639.28 493.48L638.76 492.95L638.23 491.90L638.23 490.33L638.76 489.28L639.80 488.24L641.38 487.71L643.47 487.19L644.52 486.66L645.04 485.62L645.04 484.57L644.52 483.52L642.95 483.00L640.85 483.00" stroke-width="2.00"/>
<path d="M708.54 486.66L708.02 488.24L706.97 489.28L705.40 489.81L704.88 489.81L703.30 489.28L702.26 488.24L701.73 486.66L701.73 486.14L702.26 484.57L703.30 483.52L704.88 483.00L705.40 483.00L706.97 483.52L708.02 484.57L708.54 486.66L708.54 489.28L708.02 491.90L706.97 493.48L705.40 494.00L704.35 494.00L702.78 493.48L702.26 492.43" stroke-width="2.00"/>
<path d="M117.50 390.32L117.50 389.79L118.02 388.74L118.54 388.22L119.59 387.70L121.69 387.70L122.74 388.22L123.26 388.74L123.78 389.79L123.78 390.84L123.26 391.89L122.21 393.46L116.97 398.70L124.31 398.70" stroke-width="2.00"/>
<path d="M122.21 308.70L116.97 316.03L124.83 316.03M122.21 308.70L122.21 319.70" stroke-width="2.00"/>
<path d="M123.78 231.27L123.26 230.22L121.69 229.70L120.64 229.70L119.07 230.22L118.02 231.79L117.50 234.41L117.50 237.03L118.02 239.13L119.07 240.18L120.64 240.70L121.16 240.70L122.74 240.18L123.78 239.13L124.31 237.56L124.31 237.03L123.78 235.46L122.74 234.41L121.16 233.89L120.64 233.89L119.07 234.41L118.02 235.46L117.50 237.03" stroke-width="2.00"/>
<path d="M814.72 263.30L813.14 263.82L812.10 265.39L811.57 268.01L811.57 269.58L812.10 272.20L813.14 273.78L814.72 274.30L815.76 274.30L817.34 273.78L818.38 272.20L818.91 269.58L818.91 268.01L818.38 265.39L817.34 263.82L815.76 263.30L814.72 263.30M823.10 273.25L822.58 273.78L823.10 274.30L823.62 273.78L823.10 273.25M828.34 263.30L834.10 263.30L830.96 267.49L832.53 267.49L833.58 268.01L834.10 268.54L834.63 270.11L834.63 271.16L834.10 272.73L833.06 273.78L831.48 274.30L829.91 274.30L828.34 273.78L827.82 273.25L827.29 272.20M838.30 265.92L838.30 265.39L838.82 264.34L839.34 263.82L840.39 263.30L842.49 263.30L843.54 263.82L844.06 264.34L844.58 265.39L844.58 266.44L844.06 267.49L843.01 269.06L837.77 274.30L845.11 274.30" stroke-width="2.00"/>
<path d="M814.72 308.50L813.14 309.02L812.10 310.59L811.57 313.21L811.57 314.78L812.10 317.40L813.14 318.98L814.72 319.50L815.76 319.50L817.34 318.98L818.38 317.40L818.91 314.78L818.91 313.21L818.38 310.59L817.34 309.02L815.76 308.50L814.72 308.50M823.10 318.45L822.58 318.98L823.10 319.50L823.62 318.98L823.10 318.45M828.86 310.59L829.91 310.07L831.48 308.50L831.48 319.50M844.58 310.07L844.06 309.02L842.49 308.50L841.44 308.50L839.87 309.02L838.82 310.59L838.30 313.21L838.30 315.83L838.82 317.93L839.87 318.98L841.44 319.50L841.96 319.50L843.54 318.98L844.58 317.93L845.11 316.36L845.11 315.83L844.58 314.26L843.54 313.21L841.96 312.69L841.44 312.69L839.87 313.21L838.82 314.26L838.30 315.83" stroke-width="2.00"/>
<path d="M814.72 353.70L813.14 354.22L812.10 355.79L811.57 358.41L811.57 359.98L812.10 362.60L813.14 364.18L814.72 364.70L815.76 364.70L817.34 364.18L818.38 362.60L818.91 359.98L818.91 358.41L818.38 355.79L817.34 354.22L815.76 353.70L814.72 353.70" stroke-width="2.00"/>
<path d="M812.10 405.18L821.53 405.18M828.34 398.90L826.77 399.42L825.72 400.99L825.20 403.61L825.20 405.18L825.72 407.80L826.77 409.38L828.34 409.90L829.39 409.90L830.96 409.38L832.01 407.80L832.53 405.18L832.53 403.61L832.01 400.99L830.96 399.42L829.39 398.90L828.34 398.90M836.72 408.85L836.20 409.38L836.72 409.90L837.25 409.38L836.72 408.85M842.49 400.99L843.54 400.47L845.11 398.90L845.11 409.90M858.21 400.47L857.68 399.42L856.11 398.90L855.06 398.90L853.49 399.42L852.44 400.99L851.92 403.61L851.92 406.23L852.44 408.33L853.49 409.38L855.06 409.90L855.59 409.90L857.16 409.38L858.21 408.33L858.73 406.76L858.73 406.23L858.21 404.66L857.16 403.61L855.59 403.09L855.06 403.09L853.49 403.61L852.44 404.66L851.92 406.23" stroke-width="2.00"/>
<path d="M812.10 450.38L821.53 450.38M828.34 444.10L826.77 444.62L825.72 446.19L825.20 448.81L825.20 450.38L825.72 453.00L826.77 454.58L828.34 455.10L829.39 455.10L830.96 454.58L832.01 453.00L832.53 450.38L832.53 448.81L832.01 446.19L830.96 444.62L829.39 444.10L828.34 444.10M836.72 454.05L836.20 454.58L836.72 455.10L837.25 454.58L836.72 454.05M841.96 444.10L847.73 444.10L844.58 448.29L846.16 448.29L847.20 448.81L847.73 449.34L848.25 450.91L848.25 451.96L847.73 453.53L846.68 454.58L845.11 455.10L843.54 455.10L841.96 454.58L841.44 454.05L840.92 453.00M851.92 446.72L851.92 446.19L852.44 445.14L852.97 444.62L854.02 444.10L856.11 444.10L857.16 444.62L857.68 445.14L858.21 446.19L858.21 447.24L857.68 448.29L856.64 449.86L851.40 455.10L858.73 455.10" stroke-width="2.00"/>
</g>
</svg></body></html>
